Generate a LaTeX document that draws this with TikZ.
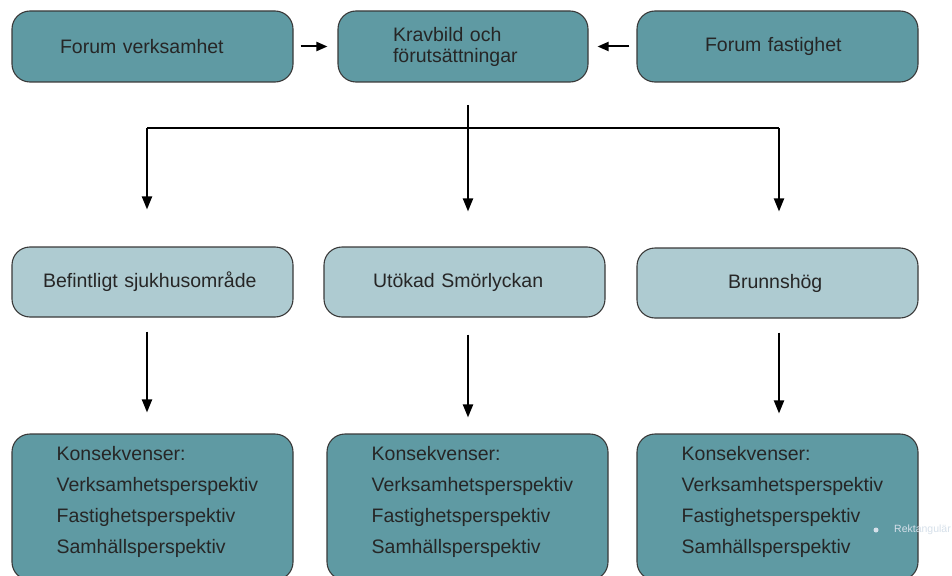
\documentclass[tikz,border=0pt]{standalone}
\usepackage{fontspec}
\setmainfont{Liberation Sans}
\usetikzlibrary{arrows.meta}
\definecolor{darkteal}{HTML}{5F9AA3}
\definecolor{lightteal}{HTML}{AECBD1}
\definecolor{edgegray}{HTML}{3A3A3A}
\definecolor{ghost}{HTML}{D6E0EA}
\begin{document}
\begin{tikzpicture}[x=1pt,y=-1pt,
  box/.style={draw=edgegray, line width=1.1pt, rounded corners=18pt,
    minimum width=281pt, minimum height=71pt, inner sep=0pt,
    font=\fontsize{19.5}{21}\selectfont, text=black!85, align=left},
  boxdark/.style={box, fill=darkteal},
  boxlight/.style={box, fill=lightteal, minimum height=70pt},
  boxbot/.style={box, fill=darkteal, minimum height=146pt},
  bottxt/.style={anchor=north west, inner sep=0pt, align=left,
    font=\fontsize{19.5}{31}\selectfont, text=black!85},
  link/.style={line width=2pt, black},
  arr/.style={link, -{Triangle[length=13pt,width=10pt]}},
  sarr/.style={link, -{Triangle[length=11pt,width=9pt]}}
]
\clip (0,0) rectangle (952,575);
\fill[white] (0,0) rectangle (952,575);

% top row
\node[boxdark, text width=185pt] (fv) at (152.5,46.5) {Forum verksamhet};
\node[boxdark, minimum width=250pt, text width=140pt] (kb) at (463,46.5) {Kravbild och\\förutsättningar};
\node[boxdark, text width=145pt] (ff) at (777.5,46.5) {Forum fastighet};

\draw[sarr, shorten <=7pt, shorten >=10pt] (fv.east) -- (kb.west);
\draw[sarr, shorten <=7pt, shorten >=9pt] (ff.west) -- (kb.east);

% middle row
\node[boxlight, text width=219pt] (m1) at (152.5,282) {Befintligt sjukhusområde};
\node[boxlight, text width=183pt] (m2) at (464.5,282) {Utökad Smörlyckan};
\node[boxlight, text width=99pt] (m3) at (777.5,283) {\raisebox{-3pt}{Brunnshög}};

% bottom row
\node[boxbot] (b1) at (152.5,507) {};
\node[boxbot] (b2) at (467.5,507) {};
\node[boxbot] (b3) at (777.5,507) {};

\foreach \b in {b1,b2,b3}{
  \node[bottxt] (\b t) at ([xshift=45pt,yshift=-12.3pt]\b.north west)
    {Konsekvenser:\\Verksamhetsperspektiv\\Fastighetsperspektiv\\Samhällsperspektiv};
}

% columns and hub
\coordinate (c1) at (147,0);
\coordinate (c2) at (468,0);
\coordinate (c3) at (779,0);
\coordinate (top) at (468,105);
\coordinate (hl) at (147,128);
\coordinate (hr) at (779,128);

\draw[link] (hl) -- (hr);
\draw[arr, shorten >=35pt] (top) -- (top |- m2.north);
\draw[arr, shorten >=37pt] (hl) -- (hl |- m1.north);
\draw[arr, shorten >=36pt] (hr) -- (hr |- m3.north);

% middle to bottom
\draw[arr, shorten <=14pt, shorten >=21pt] (m1.south -| c1) -- (b1.north -| c1);
\draw[arr, shorten <=17pt, shorten >=16pt] (m2.south -| c2) -- (b2.north -| c2);
\draw[arr, shorten <=14pt, shorten >=20pt] (m3.south -| c3) -- (b3.north -| c3);

% faint tooltip remnant
\fill[ghost] (876,530) circle (2.5pt);
\node[anchor=west, inner sep=0pt, text=ghost, font=\fontsize{10.5}{12}\selectfont] (tip) at (894,530) {Rektangulär};
\end{tikzpicture}
\end{document}
